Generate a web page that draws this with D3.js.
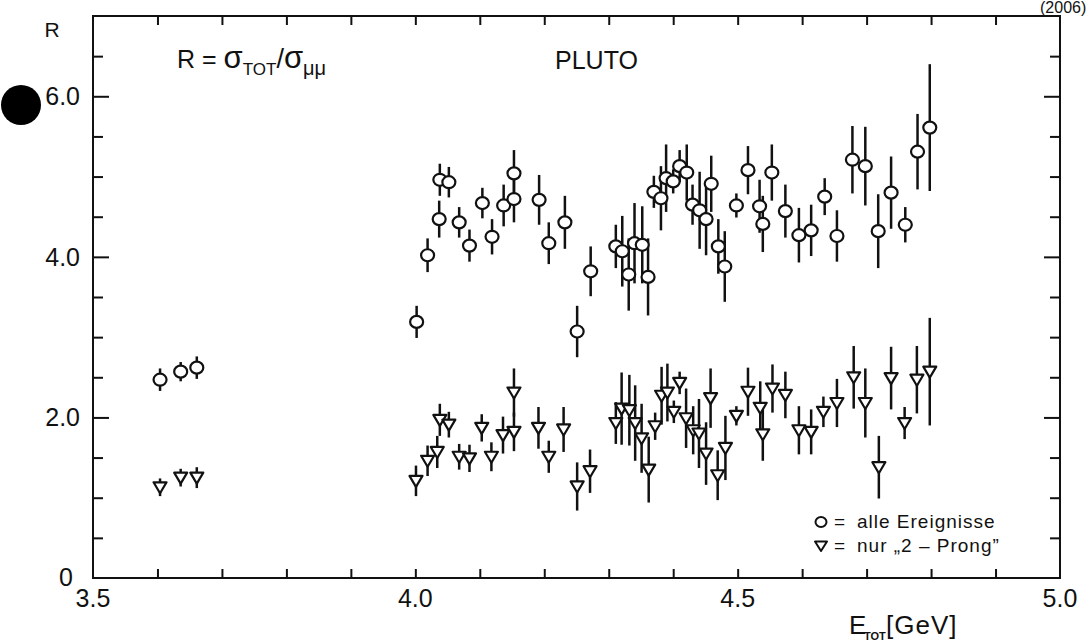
<!DOCTYPE html>
<html><head><meta charset="utf-8">
<script src="https://cdn.jsdelivr.net/npm/d3@7"></script>
<style>
body{margin:0;background:#fff}
svg{display:block}
text{font-family:"Liberation Sans",Arial,sans-serif;fill:#111}
</style>
</head><body>
<svg id="c" width="1088" height="643"></svg>
<script>
// ---- data: R = sigma_tot / sigma_mumu, all events (circles) ----
const allE = [3.604,3.636,3.661,4.002,4.019,4.037,4.038,4.052,4.068,4.084,4.104,4.119,4.137,4.153,4.153,4.192,4.207,4.232,4.251,4.272,4.311,4.321,4.331,4.340,4.352,4.361,4.370,4.381,4.389,4.400,4.410,4.421,4.430,4.441,4.451,4.459,4.470,4.480,4.498,4.516,4.534,4.539,4.553,4.574,4.595,4.614,4.635,4.654,4.678,4.698,4.718,4.738,4.760,4.779,4.798];
const allR = [2.47,2.57,2.62,3.19,4.02,4.47,4.96,4.93,4.43,4.14,4.67,4.25,4.64,5.04,4.72,4.71,4.17,4.43,3.07,3.82,4.13,4.07,3.78,4.17,4.15,3.75,4.81,4.73,4.98,4.94,5.13,5.05,4.65,4.58,4.47,4.91,4.13,3.88,4.64,5.08,4.63,4.41,5.05,4.57,4.27,4.33,4.75,4.26,5.21,5.13,4.32,4.80,4.40,5.31,5.61];
const allErr = [0.14,0.12,0.14,0.20,0.21,0.23,0.20,0.19,0.19,0.20,0.19,0.22,0.26,0.29,0.29,0.31,0.26,0.33,0.32,0.31,0.27,0.44,0.45,0.50,0.48,0.48,0.20,0.40,0.42,0.15,0.20,0.35,0.25,0.48,0.45,0.35,0.34,0.44,0.15,0.30,0.33,0.35,0.35,0.33,0.34,0.32,0.23,0.32,0.42,0.49,0.46,0.45,0.22,0.47,0.79];

// ---- data: only "2-prong" events (triangles) ----
const twoE = [3.604,3.636,3.661,4.001,4.019,4.034,4.038,4.052,4.068,4.084,4.103,4.118,4.136,4.153,4.153,4.191,4.207,4.230,4.251,4.271,4.311,4.320,4.332,4.341,4.351,4.362,4.372,4.382,4.391,4.401,4.410,4.420,4.431,4.440,4.451,4.458,4.469,4.481,4.498,4.516,4.535,4.539,4.554,4.574,4.595,4.614,4.633,4.654,4.680,4.698,4.719,4.738,4.759,4.778,4.798];
const twoR = [1.13,1.25,1.25,1.21,1.46,1.57,1.97,1.91,1.51,1.49,1.87,1.51,1.78,2.31,1.82,1.87,1.51,1.85,1.14,1.33,1.93,2.11,2.09,1.93,1.74,1.35,1.89,2.27,2.31,2.07,2.43,1.99,1.84,1.80,1.55,2.24,1.28,1.62,2.02,2.32,2.12,1.79,2.36,2.28,1.84,1.82,2.07,2.18,2.50,2.18,1.38,2.49,1.93,2.47,2.57];
const twoErr = [0.11,0.11,0.13,0.19,0.19,0.20,0.20,0.16,0.16,0.17,0.17,0.18,0.23,0.30,0.24,0.26,0.20,0.28,0.30,0.27,0.26,0.45,0.44,0.47,0.43,0.41,0.17,0.36,0.36,0.14,0.14,0.37,0.30,0.43,0.39,0.37,0.31,0.40,0.12,0.30,0.33,0.33,0.30,0.29,0.30,0.28,0.19,0.30,0.39,0.43,0.39,0.39,0.20,0.42,0.67];

// ---- tick labels ----
const xTickValues = [3.5,4.0,4.5,5.0];
const xTickLabels = ["3.5","4.0","4.5","5.0"];
const yTickValues = [2,4,6];
const yTickLabels = ["2.0","4.0","6.0"];
const yZeroLabel = "0";

const svg = d3.select("#c");
const x = d3.scaleLinear().domain([3.5,5.0]).range([93,1060]);
const y = d3.scaleLinear().domain([0,7]).range([578,16]);

// hole-punch dot
svg.append("circle").attr("cx",21).attr("cy",105).attr("r",20).attr("fill","#000");

// frame
svg.append("rect").attr("x",x(3.5)).attr("y",y(7)).attr("width",x(5)-x(3.5)).attr("height",y(0)-y(7))
  .attr("fill","none").attr("stroke","#111").attr("stroke-width",2);

const xMinor = d3.range(1,15).map(i=>+(3.5+i*0.1).toFixed(2));
const yMinor = d3.range(1,14).map(i=>i*0.5).filter(v=>![2,4,6].includes(v));

function styleAxis(g){
  g.select(".domain").remove();
  g.selectAll(".tick line").attr("stroke","#111").attr("stroke-width",2);
  g.selectAll(".tick text").remove();
}
svg.append("g").attr("transform",`translate(0,${y(0)})`)
  .call(d3.axisBottom(x).tickValues(xMinor).tickSizeInner(-9).tickSizeOuter(0)).call(styleAxis);
svg.append("g").attr("transform",`translate(0,${y(7)})`)
  .call(d3.axisTop(x).tickValues(xMinor).tickSizeInner(-9).tickSizeOuter(0)).call(styleAxis);
svg.append("g").attr("transform",`translate(${x(3.5)},0)`)
  .call(d3.axisLeft(y).tickValues(yMinor).tickSizeInner(-10).tickSizeOuter(0)).call(styleAxis);
svg.append("g").attr("transform",`translate(${x(3.5)},0)`)
  .call(d3.axisLeft(y).tickValues(yTickValues).tickSizeInner(-16).tickSizeOuter(0)).call(styleAxis);
svg.append("g").attr("transform",`translate(${x(5)},0)`)
  .call(d3.axisRight(y).tickValues(yMinor).tickSizeInner(-10).tickSizeOuter(0)).call(styleAxis);
svg.append("g").attr("transform",`translate(${x(5)},0)`)
  .call(d3.axisRight(y).tickValues(yTickValues).tickSizeInner(-16).tickSizeOuter(0)).call(styleAxis);

// tick labels
svg.selectAll("text.xl").data(xTickValues).join("text").attr("class","xl")
  .attr("x",d=>x(d)).attr("y",607).attr("text-anchor","middle").attr("font-size",25)
  .text((d,i)=>xTickLabels[i]);
svg.selectAll("text.yl").data(yTickValues).join("text").attr("class","yl")
  .attr("x",80).attr("y",d=>y(d)+9).attr("text-anchor","end").attr("font-size",25)
  .text((d,i)=>yTickLabels[i]);
svg.append("text").attr("x",73).attr("y",y(0)+8).attr("text-anchor","end").attr("font-size",25).text(yZeroLabel);

// axis titles
svg.append("text").attr("x",52).attr("y",37).attr("text-anchor","middle").attr("font-size",21).text("R");
svg.append("text").attr("x",849).attr("y",634).attr("font-size",26).text("E");
svg.append("text").attr("x",864).attr("y",640).attr("font-size",11).attr("font-weight","bold").text("TOT");
svg.append("text").attr("x",886).attr("y",634).attr("font-size",26).attr("letter-spacing",1).text("[GeV]");

// formula & experiment name
const ft = svg.append("text").attr("x",177).attr("y",68).attr("font-size",25);
ft.append("tspan").text("R = ");
ft.append("tspan").attr("font-size",31).text("σ");
ft.append("tspan").attr("font-size",17).attr("dy",7).text("TOT");
ft.append("tspan").attr("dy",-7).attr("font-size",27).text("/");
ft.append("tspan").attr("font-size",31).text("σ");
ft.append("tspan").attr("font-size",20).attr("dy",7).text("μμ");
svg.append("text").attr("x",555).attr("y",69).attr("font-size",25).text("PLUTO");
svg.append("text").attr("x",1040).attr("y",13).attr("font-size",16).text("(2006)");

// error bars
function errBars(E,R,Er,cls){
  svg.selectAll("line."+cls).data(E).join("line").attr("class",cls)
    .attr("x1",d=>x(d)).attr("x2",d=>x(d))
    .attr("y1",(d,i)=>y(R[i]-Er[i])).attr("y2",(d,i)=>y(R[i]+Er[i]))
    .attr("stroke","#111").attr("stroke-width",2.5);
}
errBars(allE,allR,allErr,"ea");
errBars(twoE,twoR,twoErr,"et");

const tri = "M-6.5,-5L6.5,-5L0,6Z";
svg.selectAll("ellipse.pa").data(allE).join("ellipse").attr("class","pa")
  .attr("cx",d=>x(d)).attr("cy",(d,i)=>y(allR[i])).attr("rx",6.5).attr("ry",6)
  .attr("fill","#fff").attr("stroke","#111").attr("stroke-width",2.2);
svg.selectAll("path.pt").data(twoE).join("path").attr("class","pt")
  .attr("transform",(d,i)=>`translate(${x(d)},${y(twoR[i])})`).attr("d",tri)
  .attr("fill","#fff").attr("stroke","#111").attr("stroke-width",2.2).attr("stroke-linejoin","round");

// legend
svg.append("ellipse").attr("cx",821).attr("cy",522).attr("rx",5.5).attr("ry",5)
  .attr("fill","#fff").attr("stroke","#111").attr("stroke-width",2);
svg.append("path").attr("transform","translate(821,546)").attr("d","M-6,-4.5L6,-4.5L0,5Z")
  .attr("fill","#fff").attr("stroke","#111").attr("stroke-width",2).attr("stroke-linejoin","round");
svg.append("text").attr("x",834).attr("y",528).attr("font-size",19).text("=");
svg.append("text").attr("x",834).attr("y",552).attr("font-size",19).text("=");
svg.append("text").attr("x",857).attr("y",528).attr("font-size",19).attr("letter-spacing",1).text("alle Ereignisse");
svg.append("text").attr("x",857).attr("y",552).attr("font-size",19).attr("letter-spacing",1).text("nur „2 – Prong”");
</script>
</body></html>
